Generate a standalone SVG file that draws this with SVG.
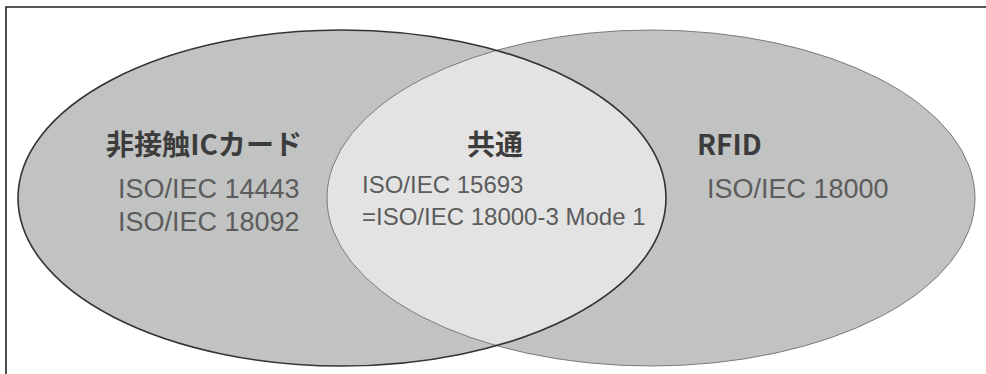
<svg xmlns="http://www.w3.org/2000/svg" width="986" height="374" viewBox="0 0 986 374">
<style>
.frame{fill:none;stroke:#1e1e1e;stroke-width:1.6}
.outer{fill:#c1c2c2}
.lens{fill:#e3e3e3}
.sl{fill:none;stroke:#333;stroke-width:1.6}
.sr{fill:none;stroke:#7a7a7a;stroke-width:1}
.head{font-family:"Noto Sans CJK JP","Noto Sans",sans-serif;font-weight:bold;font-size:28px;fill:#3c3c3c}
.body{font-family:"Liberation Sans",Arial,sans-serif;font-size:27px;fill:#5c5c5c}
.small{font-family:"Liberation Sans",Arial,sans-serif;font-size:24px;fill:#5c5c5c}
</style>
<defs>
<clipPath id="clipL"><ellipse cx="342" cy="198" rx="324" ry="168"/></clipPath>
</defs>
<rect x="0" y="0" width="986" height="374" fill="#ffffff"/>
<path class="frame" d="M6,374 V7 H986"/>
<g id="left-set">
<ellipse class="outer" cx="342" cy="198" rx="324" ry="168"/>
</g>
<g id="right-set">
<ellipse class="outer" cx="651" cy="198" rx="324" ry="168"/>
</g>
<g id="common">
<ellipse class="lens" cx="651" cy="198" rx="324" ry="168" clip-path="url(#clipL)"/>
</g>
<g id="outlines">
<ellipse class="sr" cx="651" cy="198" rx="324" ry="168"/>
<ellipse class="sl" cx="342" cy="198" rx="324" ry="168"/>
</g>
<g id="left-text">
<text class="head" x="106" y="155" textLength="196" lengthAdjust="spacingAndGlyphs">非接触ICカード</text>
<text class="body" x="118" y="198">ISO/IEC 14443</text>
<text class="body" x="118" y="231">ISO/IEC 18092</text>
</g>
<g id="common-text">
<text class="head" x="467" y="155">共通</text>
<text class="small" x="362" y="193">ISO/IEC 15693</text>
<text class="small" x="362" y="225">=ISO/IEC 18000-3 Mode 1</text>
</g>
<g id="right-text">
<text class="head" x="697" y="155">RFID</text>
<text class="body" x="707" y="198">ISO/IEC 18000</text>
</g>
</svg>
